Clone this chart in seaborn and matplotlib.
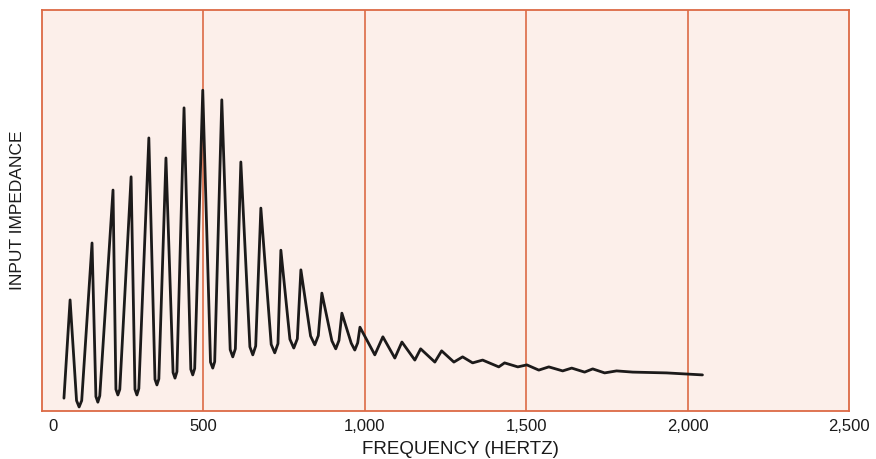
import matplotlib
matplotlib.use("Agg")
import matplotlib.pyplot as plt
import matplotlib.transforms as mtransforms
import seaborn as sns
import pandas as pd

# Frequency (Hz) and relative input impedance
# (peaks, troughs and the rounded shoulders of the troughs)
frequency = [68, 87, 107, 115, 123, 155, 167, 173, 179, 220, 229, 235, 241,
             276, 288, 294, 300, 331, 350, 356, 362, 384, 406, 412, 418,
             440, 461, 467, 473, 498, 522, 529, 535, 557, 583, 591, 599,
             616, 644, 653, 662, 678, 710, 721, 731, 740, 768, 780, 791,
             802, 832, 845, 856, 867, 898, 910, 920, 929, 958, 969, 978,
             985, 1031, 1056, 1093, 1115, 1155, 1173, 1217, 1238, 1276, 1303, 1334,
             1365, 1415, 1433, 1474, 1502, 1539, 1570, 1613, 1641, 1681, 1706, 1743, 1780,
             1830, 1935, 2046]
impedance = [3.2, 27.7, 2.6, 1.0, 2.6, 41.9, 3.6, 2.2, 3.8, 55.1, 5.4, 4.0, 5.4,
             58.4, 5.4, 4.0, 5.6, 68.1, 7.9, 6.5, 8.0, 63.1, 9.6, 8.2, 9.8,
             75.6, 10.4, 9.0, 10.6, 80.0, 12.2, 10.7, 12.3, 77.6, 15.3, 13.5, 15.5,
             62.1, 16.0, 14.0, 16.2, 50.6, 16.6, 14.5, 16.8, 40.1, 17.9, 15.7, 18.0,
             35.2, 18.7, 16.5, 18.8, 29.4, 17.5, 15.5, 17.6, 24.4, 16.9, 15.2, 17.0,
             20.9, 14.0, 18.5, 13.2, 17.2, 12.7, 15.5, 12.2, 15.0, 12.2, 13.5, 12.0,
             12.7, 11.0, 12.0, 11.0, 11.5, 10.2, 11.0, 10.0, 10.7, 9.7, 10.5, 9.5, 10.0,
             9.7, 9.5, 9.0]

x_ticks = [0, 500, 1000, 1500, 2000, 2500]
x_tick_labels = ["0", "500", "1,000", "1,500", "2,000", "2,500"]

df = pd.DataFrame({"frequency": frequency, "impedance": impedance})

sns.set_theme(style="white")
plt.rcParams["font.family"] = ["Liberation Sans", "DejaVu Sans"]

grid_color = "#dc6a45"
bg_color = "#fcefea"

fig = plt.figure(figsize=(8.76, 4.59), dpi=100)
fig.patch.set_facecolor("white")
ax = fig.add_axes([42 / 876, 1 - 411 / 459, 807 / 876, 401 / 459])
ax.set_facecolor(bg_color)

sns.lineplot(data=df, x="frequency", y="impedance", ax=ax, color="#1c1a1a",
             linewidth=2.0, estimator=None, sort=False)
ax.lines[-1].set_solid_joinstyle("round")
ax.lines[-1].set_solid_capstyle("round")

ax.set_xlim(0, 2500)
ax.set_ylim(0, 100)
ax.set_xticks(x_ticks)
ax.set_xticklabels(x_tick_labels, fontsize=12, color="#1a1a1a")
ax.set_yticks([])
ax.tick_params(axis="x", length=0, pad=6)

# shift the "0" label to the right as in the original artwork
offset = mtransforms.ScaledTranslation(11 / 100, 0, fig.dpi_scale_trans)
lbl0 = ax.get_xticklabels()[0]
lbl0.set_transform(lbl0.get_transform() + offset)

for xv in x_ticks[1:-1]:
    ax.axvline(xv, color=grid_color, linewidth=1.2, zorder=0.5)

for s in ax.spines.values():
    s.set_visible(True)
    s.set_color(grid_color)
    s.set_linewidth(1.3)

ax.set_xlabel("FREQUENCY (HERTZ)", fontsize=13.5, color="#1a1a1a")
ax.set_ylabel("INPUT IMPEDANCE", fontsize=12.5, color="#1a1a1a")
ax.xaxis.label.set_verticalalignment("center")
ax.yaxis.label.set_verticalalignment("center")
ax.xaxis.set_label_coords((460 - 42) / 807, (411 - 449) / 401)
ax.yaxis.set_label_coords((18 - 42) / 807, 0.5)

fig.savefig("out.png", dpi=100, facecolor="white")
